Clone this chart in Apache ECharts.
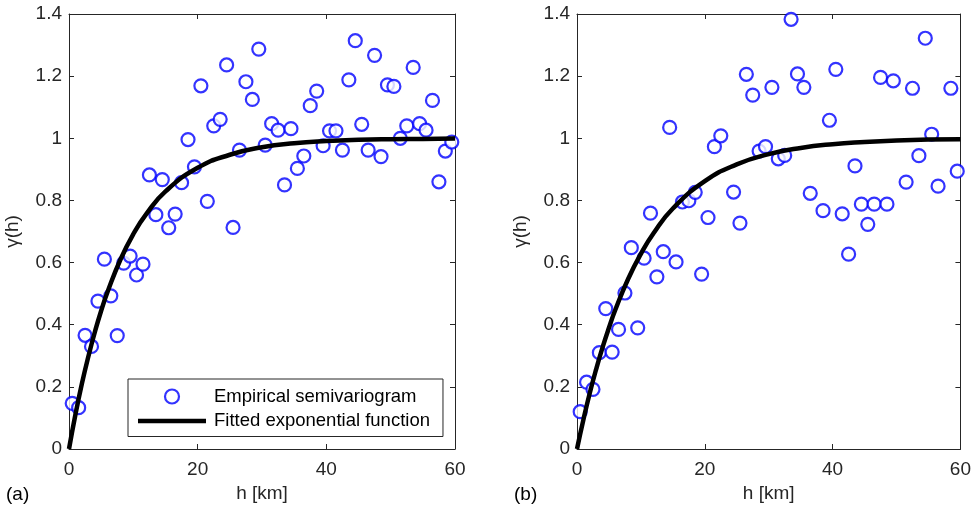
<!DOCTYPE html>
<html>
<head>
<meta charset="utf-8">
<script src="https://cdn.jsdelivr.net/npm/echarts@6/dist/echarts.min.js"></script>
<style>html,body{margin:0;padding:0;background:#fff}#c{width:974px;height:511px}</style>
</head>
<body>
<div id="c"></div>
<script>
// Panel (a) empirical semivariogram
var hA = [0.5,1.5,2.5,3.5,4.5,5.5,6.5,7.5,8.5,9.5,10.5,11.5,12.5,13.5,14.5,15.5,16.5,17.5,18.5,19.5,20.5,21.5,22.5,23.5,24.5,25.5,26.5,27.5,28.5,29.5,30.5,31.5,32.5,33.5,34.5,35.5,36.5,37.5,38.5,39.5,40.5,41.5,42.5,43.5,44.5,45.5,46.5,47.5,48.5,49.5,50.5,51.5,52.5,53.5,54.5,55.5,56.5,57.5,58.5,59.5];
var gammaA = [0.147,0.133,0.366,0.330,0.476,0.611,0.493,0.365,0.598,0.621,0.560,0.595,0.882,0.754,0.867,0.712,0.756,0.857,0.996,0.908,1.169,0.797,1.040,1.061,1.236,0.713,0.962,1.182,1.125,1.287,0.978,1.047,1.026,0.850,1.031,0.903,0.943,1.105,1.152,0.976,1.024,1.024,0.962,1.188,1.314,1.045,0.962,1.267,0.941,1.172,1.167,1.000,1.040,1.228,1.047,1.026,1.122,0.860,0.959,0.988];
// Panel (b) empirical semivariogram
var hB = [0.5,1.5,2.5,3.5,4.5,5.5,6.5,7.5,8.5,9.5,10.5,11.5,12.5,13.5,14.5,15.5,16.5,17.5,18.5,19.5,20.5,21.5,22.5,24.5,25.5,26.5,27.5,28.5,29.5,30.5,31.5,32.5,33.5,34.5,35.5,36.5,38.5,39.5,40.5,41.5,42.5,43.5,44.5,45.5,46.5,47.5,48.5,49.5,51.5,52.5,53.5,54.5,55.5,56.5,58.5,59.5];
var gammaB = [0.120,0.215,0.192,0.310,0.452,0.312,0.385,0.502,0.648,0.390,0.614,0.759,0.554,0.635,1.035,0.602,0.795,0.799,0.826,0.563,0.745,0.973,1.008,0.827,0.727,1.206,1.139,0.959,0.973,1.164,0.934,0.945,1.383,1.207,1.164,0.823,0.767,1.058,1.222,0.757,0.627,0.911,0.788,0.723,0.788,1.196,0.788,1.185,0.859,1.161,0.944,1.322,1.013,0.846,1.161,0.894];
// Fitted exponential curves
var curveH = [0,1,2,3,4,5,6,8,10,12,15,20,25,30,35,40,45,50,55,60];
var curveA = [0,0.111,0.210,0.297,0.375,0.445,0.506,0.610,0.692,0.756,0.829,0.905,0.947,0.971,0.984,0.991,0.995,0.997,0.998,0.999];
var curveB = [0,0.094,0.180,0.257,0.327,0.390,0.448,0.547,0.628,0.695,0.774,0.862,0.916,0.949,0.969,0.981,0.988,0.993,0.996,0.997];
var xTicks = [0,20,40,60];
var yTicks = [0,0.2,0.4,0.6,0.8,1,1.2,1.4];
var panelLabels = ['(a)','(b)'];
var xName = 'h [km]';
var yName = 'γ(h)';
var legendNames = ['Empirical semivariogram','Fitted exponential function'];

function pairs(xs, ys){ return xs.map(function(x,i){ return [x, ys[i]]; }); }

var axisCol = '#262626';
var font = 'Liberation Sans, Arial, sans-serif';
var fs = 19;
var grids = [
  {left:69, top:14, width:386, height:435},
  {left:577, top:14, width:386, height:435}
];
var xAxes = [], yAxes = [];
grids.forEach(function(g, i){
  var tick = {show:true, inside:true, length:5, lineStyle:{color:axisCol}};
  xAxes.push({gridIndex:i, type:'value', min:xTicks[0], max:xTicks[xTicks.length-1], interval:20, position:'bottom',
    name:xName, nameLocation:'middle', nameGap:34, nameTextStyle:{color:axisCol, fontSize:fs, fontFamily:font},
    axisLine:{onZero:false, lineStyle:{color:axisCol, width:1}}, axisTick:tick,
    axisLabel:{color:axisCol, fontSize:fs, fontFamily:font, margin:11}, splitLine:{show:false}});
  xAxes.push({gridIndex:i, type:'value', min:xTicks[0], max:xTicks[xTicks.length-1], interval:20, position:'top',
    axisLine:{onZero:false, lineStyle:{color:axisCol, width:1}}, axisTick:tick,
    axisLabel:{show:false}, splitLine:{show:false}});
  yAxes.push({gridIndex:i, type:'value', min:yTicks[0], max:yTicks[yTicks.length-1], interval:0.2, position:'left',
    name:yName, nameLocation:'middle', nameGap:47, nameRotate:90, nameTextStyle:{color:axisCol, fontSize:fs, fontFamily:font},
    axisLine:{show:true, onZero:false, lineStyle:{color:axisCol, width:1}}, axisTick:tick,
    axisLabel:{color:axisCol, fontSize:fs, fontFamily:font, margin:7, formatter:function(v){ return String(Math.round(v*10)/10); }},
    splitLine:{show:false}});
  yAxes.push({gridIndex:i, type:'value', min:yTicks[0], max:yTicks[yTicks.length-1], interval:0.2, position:'right',
    axisLine:{show:true, onZero:false, lineStyle:{color:axisCol, width:1}}, axisTick:tick,
    axisLabel:{show:false}, splitLine:{show:false}});
});

var scatterStyle = {color:'#fff', borderColor:'#0000ff', borderWidth:2.2};
var series = [
  {name:legendNames[0], type:'scatter', xAxisIndex:0, yAxisIndex:0, symbol:'circle', symbolSize:13, itemStyle:scatterStyle, data:pairs(hA, gammaA), z:3},
  {name:legendNames[1], type:'line', xAxisIndex:0, yAxisIndex:0, smooth:true, symbol:'none', lineStyle:{color:'#000', width:4.5}, itemStyle:{color:'#000'}, data:pairs(curveH, curveA), z:4},
  {name:'sB', type:'scatter', xAxisIndex:2, yAxisIndex:2, symbol:'circle', symbolSize:13, itemStyle:scatterStyle, data:pairs(hB, gammaB), z:3},
  {name:'lB', type:'line', xAxisIndex:2, yAxisIndex:2, smooth:true, symbol:'none', lineStyle:{color:'#000', width:4.5}, data:pairs(curveH, curveB), z:4}
];

var chart = echarts.init(document.getElementById('c'), null, {renderer:'canvas'});
chart.setOption({
  animation:false,
  backgroundColor:'#fff',
  grid:grids,
  xAxis:xAxes,
  yAxis:yAxes,
  legend:{
    data:[
      {name:legendNames[0], icon:'circle', itemStyle:{color:'#fff', borderColor:'#0000ff', borderWidth:2.2}},
      {name:legendNames[1], icon:'path://M0,0H68V4.5H0Z', itemStyle:{color:'#000', borderWidth:0}}
    ],
    symbolKeepAspect:true,
    orient:'vertical', left:128, top:379, itemWidth:68, itemHeight:14, itemGap:5.5, padding:[8,13,6,10],
    borderColor:axisCol, borderWidth:1, backgroundColor:'#fff',
    textStyle:{color:'#000', fontSize:18.5, fontFamily:font, padding:[0,0,0,3]}},
  graphic:[
    {type:'text', left:6, top:485, style:{text:panelLabels[0], fill:'#000', fontSize:fs, fontFamily:font}},
    {type:'text', left:514, top:485, style:{text:panelLabels[1], fill:'#000', fontSize:fs, fontFamily:font}}
  ],
  series:series
});
</script>
</body>
</html>
